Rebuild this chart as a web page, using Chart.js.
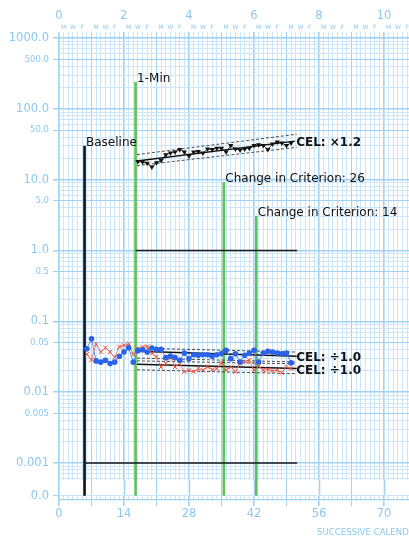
<!DOCTYPE html>
<html>
<head>
<meta charset="utf-8">
<script src="https://cdn.jsdelivr.net/npm/chart.js@4.4.1/dist/chart.umd.min.js"></script>
<style>
  html, body { margin: 0; padding: 0; background: #fff; overflow: hidden; width: 409px; height: 540px; }
  #wrap { position: relative; width: 460px; height: 540px; }
</style>
</head>
<body>
<div id="wrap"><canvas id="c"></canvas></div>
<script>
// ---- Daily counts per minute, by successive calendar day ----
const topDays   = [17,18,19,20,21,22,23,24,25,26,27,28,29,30,31,32,33,34,35,36,37,38,39,40,41,42,43,44,45,46,47,48,49,50];
const topCounts = [18.0,17.7,17.1,15.1,17.3,18.6,22.4,23.7,24.5,26.6,24.5,21.5,24.5,25.0,23.7,27.2,26.6,27.8,27.8,24.5,
                   30.4,27.2,26.3,27.2,27.8,30.4,31.0,30.4,26.6,32.0,33.9,32.8,30.4,33.0];

const bottomDays = [6,7,8,9,10,11,12,13,14,15,16,17,18,19,20,21,22,23,24,25,26,27,28,29,30,31,32,33,34,35,36,37,38,39,40,41,42,43,44,45,46,47,48,49,50];
const blueCounts = [0.041,0.0565,0.0276,0.0265,0.0282,0.0253,0.0265,0.0321,0.037,0.0423,0.0265,0.0385,0.0397,0.0368,0.042,
                    0.0402,0.0402,0.0307,0.0324,0.0307,0.0282,0.0356,0.0297,0.0338,0.0331,0.0338,0.0338,0.0321,0.0338,0.035,
                    0.0389,0.0297,0.0349,0.0267,0.0331,0.0356,0.0389,0.0267,0.0356,0.0377,0.0368,0.0356,0.0349,0.0356,0.0259];
const redCounts  = [0.0342,0.0285,0.0478,0.0368,0.0423,0.0368,0.031,0.0437,0.0457,0.0482,0.0342,0.041,0.0433,0.0443,0.0356,
                    0.0314,0.0227,0.0253,0.0314,0.0227,0.0253,0.0194,0.0204,0.0194,0.0215,0.0204,0.0227,0.0208,0.0215,0.026,
                    0.0204,0.0227,0.0194,0.0253,0.0267,0.0282,0.0204,0.0232,0.0204,0.0208,0.02,0.0204,0.0188,0.0227,0.0215];

// ---- Phase change lines ----
const phaseDays   = [5.5, 16.5, 35.5, 42.5];
const phaseTops   = [30, 240, 9.3, 3.1];
const phaseLabels = ['Baseline', '1-Min', 'Change in Criterion: 26', 'Change in Criterion: 14'];

// ---- Record floors ----
const floorStarts = [16.5, 5.5];
const floorEnds   = [51.3, 51.3];
const floorValues = [1.0, 0.001];

// ---- Celeration lines and bounce envelopes ----
const topTrendDays    = [16.8, 50.8];
const bottomTrendDays = [16.8, 51.2];
const topTrend  = [18.4, 35.0], topUpper  = [22.6, 43.8], topLower  = [15.8, 28.6];
const blueTrend = [0.0377, 0.0321], blueUpper = [0.0419, 0.0368], blueLower = [0.0303, 0.0267];
const redTrend  = [0.0248, 0.0215], redUpper  = [0.0276, 0.0251], redLower  = [0.0207, 0.0182];
const celLabels = ['CEL: ×1.2', 'CEL: ÷1.0', 'CEL: ÷1.0'];

// ---- Axis tick values ----
const yDecades    = [0.001, 0.01, 0.1, 1, 10, 100, 1000];
const yBelowFloor = [0.0006, 0.0007, 0.0008, 0.0009];
const weekNumbers = [0, 2, 4, 6, 8, 10, 12];
const weekDayLetters = ['M', 'W', 'F'];
const weekDayOffsets = [1, 3, 5];
const xAxisTitle = 'SUCCESSIVE CALENDAR DAYS';

const Y_MIN = 0.000345, Y_MAX = 1000, X_MAX = 85.3;

const FONT = 'DejaVu Sans';
const LABEL_COLOR = '#8cc8ee';
const STRONG_GRID = '#a1d2f2';
const FAINT_GRID = '#cde6f7';
const GREEN = '#5cc25c';

const tidy = v => +v.toPrecision(6);
const isDecade = v => Math.abs(Math.log10(v) - Math.round(Math.log10(v))) < 1e-6;
const isFive = v => isDecade(v / 5);
const isZeroRow = v => Math.abs(v - Y_MIN) < 1e-9;

const yTickValues = [Y_MIN, ...yBelowFloor];
for (let i = 0; i < yDecades.length - 1; i++) {
  for (let m = 1; m <= 9; m++) yTickValues.push(tidy(yDecades[i] * m));
}
yTickValues.push(Y_MAX);

function yLabel(v) {
  if (isZeroRow(v)) return '0.0';
  if (!(isDecade(v) || isFive(v))) return '';
  if (v >= 1) return v.toFixed(1);
  return String(tidy(v));
}

const pts = (xs, ys) => xs.map((x, i) => ({ x, y: ys[i] }));
const line2 = (xs, ys) => [{ x: xs[0], y: ys[0] }, { x: xs[1], y: ys[1] }];

const datasets = [
  { data: pts(topDays, topCounts), borderColor: '#111', borderWidth: 0.8,
    pointStyle: 'triangle', rotation: 180, pointRadius: 3,
    pointBackgroundColor: '#111', pointBorderColor: '#111', pointBorderWidth: 0 },
  { data: pts(bottomDays, blueCounts), borderColor: '#5b8ef2', borderWidth: 1,
    pointStyle: 'circle', pointRadius: 2.8,
    pointBackgroundColor: '#2a63ea', pointBorderColor: '#2a63ea', pointBorderWidth: 0 },
  { data: pts(bottomDays, redCounts), borderColor: '#ef6b5b', borderWidth: 0.9,
    pointStyle: 'crossRot', pointRadius: 3,
    pointBackgroundColor: 'rgba(0,0,0,0)', pointBorderColor: '#e64a36', pointBorderWidth: 1 }
];

const trendStyle = { borderColor: '#111', borderWidth: 1.5, pointRadius: 0 };
const bounceStyle = { borderColor: '#222', borderWidth: 0.8, borderDash: [3, 2], pointRadius: 0 };
datasets.push({ data: line2(topTrendDays, topTrend), ...trendStyle });
datasets.push({ data: line2(bottomTrendDays, topUpper), ...bounceStyle });
datasets.push({ data: line2(bottomTrendDays, topLower), ...bounceStyle });
datasets.push({ data: line2(bottomTrendDays, blueTrend), ...trendStyle });
datasets.push({ data: line2(bottomTrendDays, blueUpper), ...bounceStyle });
datasets.push({ data: line2(bottomTrendDays, blueLower), ...bounceStyle });
datasets.push({ data: line2(bottomTrendDays, redTrend), ...trendStyle });
datasets.push({ data: line2(bottomTrendDays, redUpper), ...bounceStyle });
datasets.push({ data: line2(bottomTrendDays, redLower), ...bounceStyle });

floorValues.forEach((v, i) => {
  datasets.push({ data: [{ x: floorStarts[i], y: v }, { x: floorEnds[i], y: v }],
    borderColor: '#1a1a1a', borderWidth: 1.4, pointRadius: 0 });
});
phaseDays.forEach((d, i) => {
  datasets.push({ data: [{ x: d, y: phaseTops[i] }, { x: d, y: Y_MIN }],
    borderColor: i === 0 ? '#111' : GREEN, borderWidth: 2.6, pointRadius: 0 });
});

const dayTicks = scale => {
  const t = [];
  for (let d = 0; d <= Math.floor(X_MAX); d++) t.push({ value: d });
  scale.ticks = t;
};
const dayGridColor = ctx => (ctx.tick && ctx.tick.value % 7 === 0) ? STRONG_GRID : FAINT_GRID;
const dayGridWidth = ctx => {
  if (!ctx.tick) return 1;
  const v = ctx.tick.value;
  return v % 14 === 0 ? 1.6 : 1;
};

// white strip between the floor band and the zero row, keeping week lines
const stripPlugin = {
  id: 'zeroStrip',
  beforeDatasetsDraw(chart) {
    const { ctx, chartArea: a, scales: { x, y } } = chart;
    const y0 = Math.round(y.getPixelForValue(0.00058));
    const y1 = Math.round(a.bottom - 5);
    ctx.save();
    ctx.fillStyle = '#fff';
    ctx.fillRect(a.left + 1, y0, a.right - a.left, y1 - y0);
    ctx.strokeStyle = STRONG_GRID;
    for (let d = 7; d <= X_MAX; d += 7) {
      const px = Math.round(x.getPixelForValue(d)) + 0.5;
      ctx.lineWidth = d % 14 === 0 ? 1.6 : 1;
      ctx.beginPath(); ctx.moveTo(px, y0); ctx.lineTo(px, y1); ctx.stroke();
    }
    ctx.restore();
  }
};

const textPlugin = {
  id: 'chartText',
  afterDatasetsDraw(chart) {
    const { ctx, chartArea: a, scales: { x, y } } = chart;
    ctx.save();
    // phase labels
    ctx.fillStyle = '#111';
    ctx.font = '12px "' + FONT + '"';
    ctx.textAlign = 'left';
    ctx.textBaseline = 'alphabetic';
    phaseDays.forEach((d, i) => {
      ctx.fillText(phaseLabels[i], x.getPixelForValue(d) + 1.5, y.getPixelForValue(phaseTops[i]) + 0.5);
    });
    // celeration labels
    ctx.font = 'bold 12px "' + FONT + '"';
    ctx.textBaseline = 'middle';
    const ends = [[topTrend[1], 1.5], [blueTrend[1], 2], [redTrend[1], 2.5]];
    ends.forEach(([v, dy], i) => {
      ctx.fillText(celLabels[i], x.getPixelForValue(bottomTrendDays[1]) - 0.5, y.getPixelForValue(v) + dy);
    });
    // week numbers and day-of-week letters along the top
    ctx.fillStyle = LABEL_COLOR;
    ctx.textAlign = 'center';
    ctx.font = '11.5px "' + FONT + '"';
    weekNumbers.forEach(w => {
      const px = x.getPixelForValue(w * 7);
      if (px <= a.right) ctx.fillText(String(w), px, a.top - 22);
    });
    ctx.font = '6px "' + FONT + '"';
    for (let w = 0; w * 7 <= X_MAX; w++) {
      weekDayOffsets.forEach((off, k) => {
        const px = x.getPixelForValue(w * 7 + off);
        if (px <= a.right) ctx.fillText(weekDayLetters[k], px, a.top - 11);
      });
    }
    // x-axis title
    ctx.font = '8.6px "' + FONT + '"';
    ctx.textAlign = 'left';
    ctx.fillText(xAxisTitle, 317, 533);
    ctx.restore();
  }
};

Chart.defaults.font.family = FONT;

new Chart(document.getElementById('c'), {
  type: 'line',
  data: { datasets },
  plugins: [stripPlugin, textPlugin],
  options: {
    responsive: true,
    maintainAspectRatio: false,
    animation: false,
    layout: { padding: 0 },
    plugins: { legend: { display: false }, tooltip: { enabled: false } },
    elements: { line: { tension: 0, fill: false } },
    scales: {
      x: {
        type: 'linear', position: 'bottom', min: 0, max: X_MAX,
        afterBuildTicks: dayTicks,
        afterFit: s => { s.height = 40; },
        grid: {
          color: dayGridColor, lineWidth: dayGridWidth, tickLength: 6,
          tickColor: ctx => (ctx.tick && ctx.tick.value % 7 === 0) ? STRONG_GRID : 'rgba(0,0,0,0)'
        },
        border: { color: STRONG_GRID, width: 1.2 },
        ticks: {
          autoSkip: false, maxRotation: 0, padding: 1, color: LABEL_COLOR,
          font: { size: 11.5 },
          callback: v => (v % 14 === 0 ? String(v) : '')
        }
      },
      xTop: {
        type: 'linear', position: 'top', min: 0, max: X_MAX,
        afterBuildTicks: dayTicks,
        afterFit: s => { s.height = 38; },
        grid: { drawOnChartArea: false, tickLength: 6, color: dayGridColor, lineWidth: dayGridWidth },
        border: { color: STRONG_GRID, width: 1.2 },
        ticks: { display: false }
      },
      y: {
        type: 'logarithmic', position: 'left', min: Y_MIN, max: Y_MAX,
        afterBuildTicks: s => { s.ticks = yTickValues.map(v => ({ value: v })); },
        afterFit: s => { s.width = 59; },
        grid: {
          color: ctx => {
            const v = ctx.tick ? ctx.tick.value : 1;
            return (isDecade(v) || isFive(v)) ? STRONG_GRID : FAINT_GRID;
          },
          lineWidth: ctx => {
            const v = ctx.tick ? ctx.tick.value : 1;
            return isDecade(v) ? 1.5 : 1;
          },
          tickLength: 6,
          tickColor: ctx => (ctx.tick && yLabel(ctx.tick.value) !== '') ? STRONG_GRID : 'rgba(0,0,0,0)'
        },
        border: { color: STRONG_GRID, width: 1.2 },
        ticks: {
          autoSkip: false, padding: 4, color: LABEL_COLOR,
          font: ctx => ({ size: (ctx.tick && isFive(ctx.tick.value) && !isDecade(ctx.tick.value)) ? 8.5 : 11.5 }),
          callback: v => yLabel(v)
        }
      }
    }
  }
});
</script>
</body>
</html>
